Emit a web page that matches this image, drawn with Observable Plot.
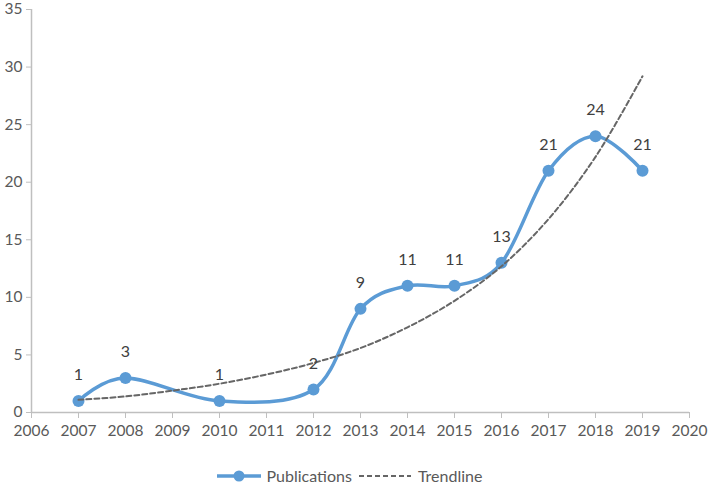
<!DOCTYPE html>
<html><head><meta charset="utf-8">
<script src="https://cdn.jsdelivr.net/npm/d3@7"></script>
<script src="https://cdn.jsdelivr.net/npm/@observablehq/plot@0.6"></script>
<style>
body{margin:0;background:#fff;font-family:Lato,"Open Sans",sans-serif;overflow:hidden}
#legend{display:flex;justify-content:center;align-items:center;font-size:16px;line-height:18px;color:#595959;height:18px;margin-top:12px;margin-left:-4px}
#legend svg{margin-right:6px}
#legend span{margin-right:6px}
</style></head>
<body><div id="chart"></div>
<div id="legend">
<svg width="44" height="14"><line x1="0" y1="7" x2="44" y2="7" stroke="#5b9bd5" stroke-width="3.5"/><circle cx="22" cy="7" r="5.5" fill="#5b9bd5"/></svg><span>Publications</span>
<svg width="54" height="14"><line x1="1" y1="7" x2="53" y2="7" stroke="#666" stroke-width="2" stroke-dasharray="5,3"/></svg><span>Trendline</span>
</div>
<script>
const years = [2007, 2008, 2010, 2012, 2013, 2014, 2015, 2016, 2017, 2018, 2019];
const publications = [1, 3, 1, 2, 9, 11, 11, 13, 21, 24, 21];
const trendYears = [2007, 2008, 2009, 2010, 2011, 2012, 2013, 2014, 2015, 2016, 2017, 2018, 2019];
const trendValues = [1.1, 1.4, 1.9, 2.5, 3.3, 4.3, 5.6, 7.4, 9.7, 12.7, 16.8, 22.2, 29.2];
const xTicks = [2006,2007,2008,2009,2010,2011,2012,2013,2014,2015,2016,2017,2018,2019,2020];
const yTicks = [0,5,10,15,20,25,30,35];

const pubs = years.map((y,i)=>({year:y, value:publications[i]}));
const trend = trendYears.map((y,i)=>({year:y, value:trendValues[i]}));

const chart = Plot.plot({
  width: 709, height: 455,
  marginLeft: 31, marginRight: 20, marginTop: 9, marginBottom: 43,
  style: {fontFamily: "Lato, 'Open Sans', sans-serif", fontSize: "15px", color: "#595959", background: "#fff"},
  x: {domain: [2006, 2020]},
  y: {domain: [0, 35]},
  marks: [
    Plot.axisX({ticks: xTicks, tickFormat: d => String(d), tickSize: 6, stroke: "#bfbfbf", strokeOpacity: 1, tickPadding: 6, fill: "#595959", fontSize: 15.5, label: null}),
    Plot.axisY({ticks: yTicks, tickSize: 5, stroke: "#bfbfbf", strokeOpacity: 1, tickPadding: 4, fill: "#595959", fontSize: 15.5, label: null}),
    Plot.ruleY([0], {stroke: "#bfbfbf", strokeWidth: 1.5}),
    Plot.ruleX([2006], {stroke: "#bfbfbf", strokeWidth: 1.5}),
    Plot.line(pubs, {x: "year", y: "value", stroke: "#5b9bd5", strokeWidth: 3.5, curve: "cardinal"}),
    Plot.dot(pubs, {x: "year", y: "value", r: 6, fill: "#5b9bd5"}),
    Plot.line(trend, {x: "year", y: "value", stroke: "#666", strokeWidth: 2, strokeDasharray: "5,3", curve: "catmull-rom"}),
    Plot.text(pubs, {x: "year", y: "value", text: d => String(d.value), dy: -26, fill: "#404040", fontSize: 16})
  ]
});
document.getElementById("chart").appendChild(chart);
</script></body></html>
